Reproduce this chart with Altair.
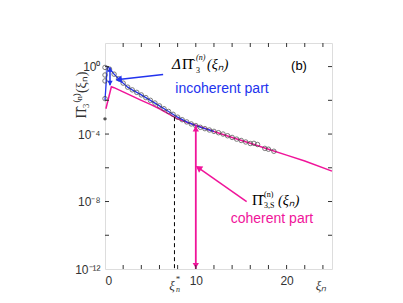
import altair as alt
import pandas as pd

# ---- data (y stored as log10 exponents) ----
circ_x = [0, 0, 0, 0, 0.5, 1.0, 1.5, 2.0, 2.5, 3.0, 3.5, 4.0, 4.5, 5.0, 5.5, 6.0, 6.5, 7.0, 7.5,
          8.0, 8.5, 9.0, 9.5, 10.0, 10.5, 11.0, 11.5, 12.0, 12.5, 13.0, 13.5, 14.0, 14.5,
          15.0, 15.5, 16.0, 16.4, 16.8, 17.6, 18.0, 18.6]
circ_e = [-0.05, -0.5, -0.85, -1.9, -0.15, -0.45, -0.72, -0.98, -1.22, -1.38, -1.53, -1.68, -1.84,
          -2.0, -2.16, -2.33, -2.5, -2.66, -2.83, -3.0, -3.15, -3.28, -3.4, -3.5, -3.6, -3.68,
          -3.76, -3.84, -3.92, -4.0, -4.1, -4.2, -4.3, -4.38, -4.47, -4.56, -4.55, -4.62,
          -4.85, -4.9, -5.02]
dot_x = [0]
dot_e = [-3.1]

blue_x = [0, 0.25, 0.5, 1.0, 1.5, 2.0, 2.5, 3.0, 4.0, 5.0, 6.0, 7.0, 8.0, 9.0, 10.0, 11.0, 12.0]
blue_e = [-2.0, 0.0, -0.12, -0.45, -0.72, -0.98, -1.22, -1.38, -1.68, -2.0, -2.33, -2.66, -3.0,
          -3.28, -3.5, -3.68, -3.84]

pink_x = [0.1, 0.7, 1, 2, 3, 4, 5, 6, 7, 8, 9, 10, 12, 14, 16, 18, 20, 22, 25]
pink_e = [-2.5, -1.2, -1.25, -1.5, -1.75, -2.0, -2.24, -2.5, -2.8, -3.1, -3.3, -3.48, -3.85,
          -4.2, -4.55, -4.9, -5.25, -5.6, -6.2]

xi_star = 7.65
xi_star_top = -3.0
y_bottom = -12

x_tick_labels = [0, 10, 20]
x_minor = [2, 4, 6, 8, 10, 12, 14, 16, 18, 20, 22, 24]
y_minor_e = [-10, -8, -6, -4, -2, 0]
y_label_e = [0, -4, -8, -12]

# annotation arrows (data coords)
blue_dbl_x = 0.55
blue_dbl_e = [-0.05, -1.1]
blue_arrow_x = [6.4, 1.5]
blue_arrow_e = [-0.47, -0.77]
pink_dbl_x = 10
pink_dbl_e = [-3.48, -12]
pink_arrow_x = [15.6, 10.3]
pink_arrow_e = [-8.0, -6.0]

W, H = 227, 226
BLUE = "#2233ee"
PINK = "#f0149a"
GRAY = "#333333"

xs = alt.Scale(domain=[0, 25], nice=False)
ys = alt.Scale(type="log", domain=[1e-12, 25], nice=False)

label_expr = ("datum.value >= 0.5 ? '10⁰' : datum.value >= 1e-5 ? '10⁻⁴' : "
              "datum.value >= 1e-9 ? '10⁻⁸' : '10⁻¹²'")

x_axis = alt.Axis(values=x_tick_labels, tickSize=0, domain=False, grid=False, title=None,
                  labelFontSize=12, labelColor=GRAY, labelPadding=6, labelFont="Liberation Sans")
y_axis = alt.Axis(values=[10.0 ** e for e in y_label_e], tickSize=0, domain=False, grid=False,
                  title=None, labelFontSize=12, labelColor=GRAY, labelPadding=5,
                  labelExpr=label_expr, labelFont="Liberation Sans")


def df(xv, ev):
    return pd.DataFrame({"x": xv, "y": [10.0 ** e for e in ev]})


X = lambda: alt.X("x:Q", scale=xs, axis=x_axis)
Y = lambda: alt.Y("y:Q", scale=ys, axis=y_axis)

pink = alt.Chart(df(pink_x, pink_e)).mark_line(color=PINK, strokeWidth=1.5).encode(x=X(), y=Y())
blue = alt.Chart(df(blue_x, blue_e)).mark_line(color=BLUE, strokeWidth=1.3).encode(x=X(), y=Y())

circles = alt.Chart(df(circ_x, circ_e)).mark_point(shape="circle", filled=False, size=20,
                                                   color="#444444", strokeWidth=1).encode(x=X(), y=Y())
dots = alt.Chart(df(dot_x, dot_e)).mark_point(shape="circle", filled=True, size=12,
                                              color="#555555", opacity=1).encode(x=X(), y=Y())

dashed = alt.Chart(df([xi_star, xi_star], [xi_star_top, y_bottom])).mark_line(
    color="black", strokeWidth=1, strokeDash=[4, 3]).encode(x=X(), y=Y())

# blue double arrow
blue_dbl = alt.Chart(df([blue_dbl_x] * 2, blue_dbl_e)).mark_line(color=BLUE, strokeWidth=1.5).encode(x=X(), y=Y())
blue_dbl_up = alt.Chart(df([blue_dbl_x], [blue_dbl_e[0] - 0.12])).mark_point(
    shape="triangle-up", filled=True, size=30, color=BLUE, opacity=1).encode(x=X(), y=Y())
blue_dbl_dn = alt.Chart(df([blue_dbl_x], [blue_dbl_e[1] + 0.12])).mark_point(
    shape="triangle-down", filled=True, size=30, color=BLUE, opacity=1).encode(x=X(), y=Y())
blue_arr = alt.Chart(df(blue_arrow_x, blue_arrow_e)).mark_line(color=BLUE, strokeWidth=1.5).encode(x=X(), y=Y())
blue_arr_head = alt.Chart(df([blue_arrow_x[1]], [blue_arrow_e[1]])).mark_point(
    shape="triangle-up", angle=264, filled=True, size=55, color=BLUE, opacity=1).encode(x=X(), y=Y())

# pink arrows
pink_dbl = alt.Chart(df([pink_dbl_x] * 2, pink_dbl_e)).mark_line(color=PINK, strokeWidth=1.8).encode(x=X(), y=Y())
pink_dbl_up = alt.Chart(df([pink_dbl_x], [pink_dbl_e[0] - 0.2])).mark_point(
    shape="triangle-up", filled=True, size=40, color=PINK, opacity=1).encode(x=X(), y=Y())
pink_dbl_dn = alt.Chart(df([pink_dbl_x], [pink_dbl_e[1] + 0.2])).mark_point(
    shape="triangle-down", filled=True, size=40, color=PINK, opacity=1).encode(x=X(), y=Y())
pink_arr = alt.Chart(df(pink_arrow_x, pink_arrow_e)).mark_line(color=PINK, strokeWidth=1.5).encode(x=X(), y=Y())
pink_arr_head = alt.Chart(df([pink_arrow_x[1]], [pink_arrow_e[1]])).mark_point(
    shape="triangle-up", angle=305, filled=True, size=55, color=PINK, opacity=1).encode(x=X(), y=Y())

# inward ticks
xt = pd.DataFrame({"x": x_minor})
yt = pd.DataFrame({"y": [10.0 ** e for e in y_minor_e]})
tick_style = dict(color=GRAY, strokeWidth=1)
ticks = [
    alt.Chart(xt).mark_rule(**tick_style).encode(x=X(), y=alt.value(H), y2=alt.value(H - 4)),
    alt.Chart(xt).mark_rule(**tick_style).encode(x=X(), y=alt.value(0), y2=alt.value(4)),
    alt.Chart(yt).mark_rule(**tick_style).encode(y=Y(), x=alt.value(0), x2=alt.value(4)),
    alt.Chart(yt).mark_rule(**tick_style).encode(y=Y(), x=alt.value(W), x2=alt.value(W - 4)),
]

one = pd.DataFrame({"a": [0]})


def txt(text, px, py, size=14, color="black", font="Liberation Sans", style="normal", align="left",
        baseline="alphabetic", angle=0):
    kw = dict(text=text, fontSize=size, color=color, font=font, fontStyle=style, align=align,
              baseline=baseline)
    if angle:
        kw["angle"] = angle
    return alt.Chart(one).mark_text(**kw).encode(x=alt.value(px - 105), y=alt.value(py - 43))


SERIF = "Liberation Serif"
texts = [
    # ΔΠ label
    txt("Δ", 172, 69, 15, "black", SERIF, "italic"),
    txt("Π̂", 182, 69, 15, "black", SERIF),
    txt("(n)", 196, 60, 8, "black", SERIF, "italic"),
    txt("3", 196, 73, 8, "black", SERIF),
    txt("(ξₙ)", 207, 69, 14, "black", SERIF, "italic"),
    txt("(b)", 299, 66, 13, "black", align="center", baseline="middle"),
    txt("incoherent part", 222, 89, 14, BLUE, align="center", baseline="middle"),
    # Π_3,S label
    txt("Π̂", 252, 205, 15, "black", SERIF),
    txt("(n)", 264, 197, 8, "black", SERIF),
    txt("3,S", 264, 208, 8, "black", SERIF),
    txt("(ξₙ)", 278, 205, 14, "black", SERIF, "italic"),
    txt("coherent part", 272, 219, 14, PINK, align="center", baseline="middle"),
    # axis extras
    txt("ξ", 172, 286, 13, GRAY, SERIF, "italic", align="center", baseline="middle"),
    txt("*", 178, 279, 9, GRAY, SERIF, align="center", baseline="middle"),
    txt("n", 178, 290, 8, GRAY, SERIF, "italic", align="center", baseline="middle"),
    txt("ξₙ", 321, 286, 13, GRAY, SERIF, "italic", align="center", baseline="middle"),
    txt("Π̂₃⁽ⁿ⁾(ξₙ)", 82, 95, 14, GRAY, SERIF, align="center", baseline="middle", angle=270),
]

chart = alt.layer(
    pink, blue, circles, dots, dashed,
    blue_dbl, blue_dbl_up, blue_dbl_dn, blue_arr, blue_arr_head,
    pink_dbl, pink_dbl_up, pink_dbl_dn, pink_arr, pink_arr_head,
    *ticks, *texts,
).properties(
    width=W, height=H, autosize="none",
    padding={"left": 97, "top": 35, "right": 10, "bottom": 30},
).configure_view(stroke=GRAY, strokeWidth=1).configure(background="white")

chart.save("out.html", embed_options={"renderer": "svg", "actions": False})
